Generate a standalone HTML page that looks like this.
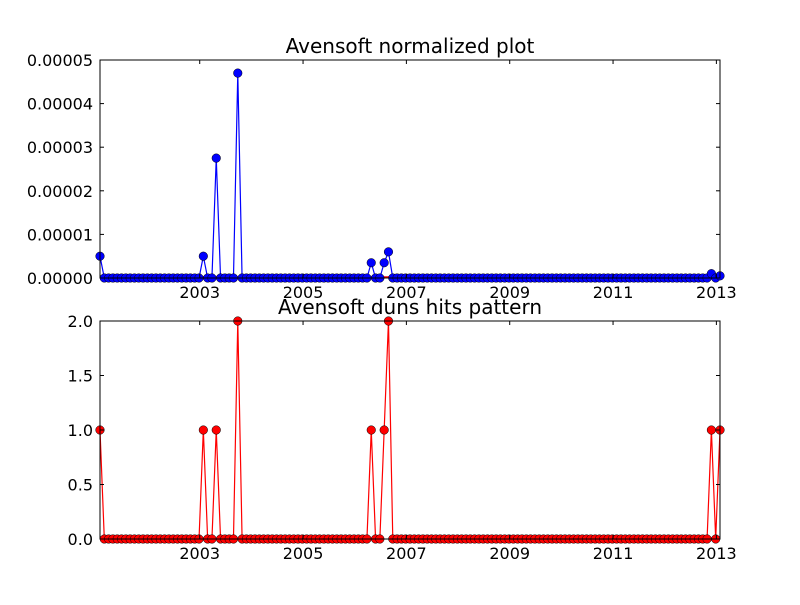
<!DOCTYPE html>
<html><head><meta charset="utf-8"><style>
html,body{margin:0;padding:0;background:#fff;}
svg text{font-family:"DejaVu Sans","Liberation Sans",sans-serif;}
</style></head><body>
<svg id="chart" width="800" height="600" xmlns="http://www.w3.org/2000/svg">
<rect width="800" height="600" fill="#fff"/>
</svg>
<script>
// monthly data, index 0 = early 2001
const hits = [
1,0,0,0,0,0,0,0,0,0,0,0,
0,0,0,0,0,0,0,0,0,0,0,0,
1,0,0,1,0,0,0,0,2,0,0,0,
0,0,0,0,0,0,0,0,0,0,0,0,
0,0,0,0,0,0,0,0,0,0,0,0,
0,0,0,1,0,0,1,2,0,0,0,0,
0,0,0,0,0,0,0,0,0,0,0,0,
0,0,0,0,0,0,0,0,0,0,0,0,
0,0,0,0,0,0,0,0,0,0,0,0,
0,0,0,0,0,0,0,0,0,0,0,0,
0,0,0,0,0,0,0,0,0,0,0,0,
0,0,0,0,0,0,0,0,0,0,1,0,
1];
const normalized = [
5e-6,0,0,0,0,0,0,0,0,0,0,0,
0,0,0,0,0,0,0,0,0,0,0,0,
5e-6,0,0,2.75e-5,0,0,0,0,4.7e-5,0,0,0,
0,0,0,0,0,0,0,0,0,0,0,0,
0,0,0,0,0,0,0,0,0,0,0,0,
0,0,0,3.5e-6,0,0,3.5e-6,6e-6,0,0,0,0,
0,0,0,0,0,0,0,0,0,0,0,0,
0,0,0,0,0,0,0,0,0,0,0,0,
0,0,0,0,0,0,0,0,0,0,0,0,
0,0,0,0,0,0,0,0,0,0,0,0,
0,0,0,0,0,0,0,0,0,0,0,0,
0,0,0,0,0,0,0,0,0,0,1e-6,0,
5e-7];
const startYear = 2001.07;
const xTickYears = [2003,2005,2007,2009,2011,2013];
const topYTicks = [0,0.00001,0.00002,0.00003,0.00004,0.00005];
const topYLabels = ["0.00000","0.00001","0.00002","0.00003","0.00004","0.00005"];
const botYTicks = [0,0.5,1,1.5,2];
const botYLabels = ["0.0","0.5","1.0","1.5","2.0"];

const NS="http://www.w3.org/2000/svg";
const svg=document.getElementById('chart');
const L=100,R=720;
const n=hits.length;
function xIdx(i){return L+i*(R-L)/(n-1);}
function xYear(y){return L+(y-startYear)*12*(R-L)/(n-1);}
function mk(tag,attrs,parent){const e=document.createElementNS(NS,tag);for(const k in attrs)e.setAttribute(k,attrs[k]);(parent||svg).appendChild(e);return e;}

function panel(name,top,bot,ymax,yTicks,yLabels,title,series,color,extraZero){
  const g=mk('g',{});
  
  
  const yS=v=>bot-(v/ymax)*(bot-top);
  if(extraZero){
    const zl=mk('line',{x1:L,x2:R,y1:bot-1,y2:bot-1,stroke:'#f00','stroke-width':1.5},g);
    
    
  }
  let d='';
  series.forEach((v,i)=>{d+=(i?'L':'M')+xIdx(i).toFixed(2)+','+yS(v).toFixed(2);});
  const line=mk('path',{d:d,fill:'none',stroke:color,'stroke-width':1.2},g);
  
  
  series.forEach((v,i)=>{
    const c=mk('circle',{cx:xIdx(i),cy:yS(v),r:4.3,fill:color,stroke:'#000','stroke-width':0.5},g);
    
    
  });
  const fr=mk('rect',{x:L,y:top,width:R-L,height:bot-top,fill:'none',stroke:'#000','stroke-width':1},g);
  
  
  xTickYears.forEach(yr=>{
    const x=xYear(yr);
    mk('line',{x1:x,x2:x,y1:bot,y2:bot-4,stroke:'#000'},g);
    mk('line',{x1:x,x2:x,y1:top,y2:top+4,stroke:'#000'},g);
    const t=mk('text',{x:x,y:bot+20,'font-size':16,'text-anchor':'middle',fill:'#000'},g);
    t.textContent=String(yr);
    
    
  });
  yTicks.forEach((v,k)=>{
    const y=yS(v);
    mk('line',{x1:L,x2:L+4,y1:y,y2:y,stroke:'#000'},g);
    mk('line',{x1:R,x2:R-4,y1:y,y2:y,stroke:'#000'},g);
    const t=mk('text',{x:L-7,y:y+6,'font-size':16,'text-anchor':'end',fill:'#000'},g);
    t.textContent=yLabels[k];
    
    
  });
  const tt=mk('text',{x:(L+R)/2,y:top-7,'font-size':20,'text-anchor':'middle',fill:'#000'},g);
  tt.textContent=title;
  
  
}
panel('normalized-plot',60,278,0.00005,topYTicks,topYLabels,'Avensoft normalized plot',normalized,'#00f',true);
panel('hits-plot',321,539,2,botYTicks,botYLabels,'Avensoft duns hits pattern',hits,'#f00',false);
</script>
</body></html>
